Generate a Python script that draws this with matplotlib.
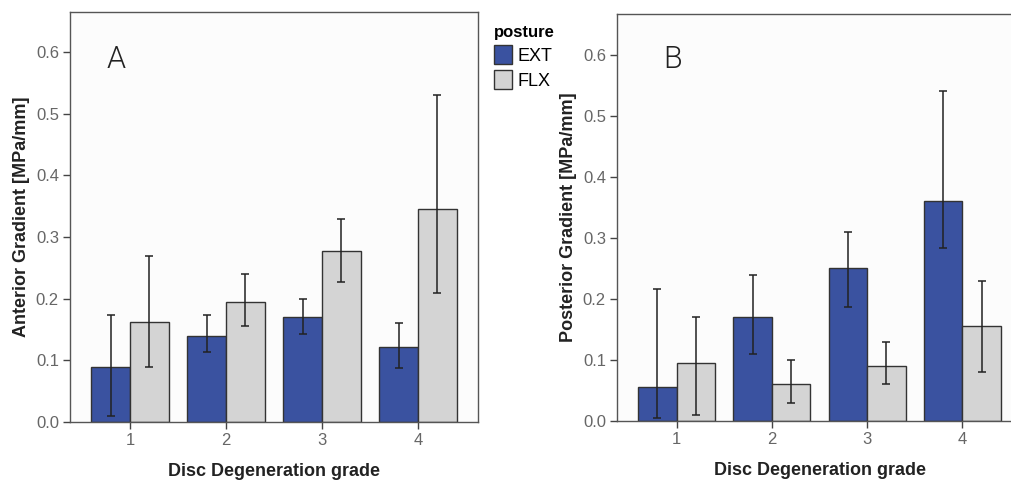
"""
Grouped bar charts of anterior / posterior pressure gradients
per disc degeneration grade, split by posture (EXT / FLX).
Saves the figure as out.png.
"""

import numpy as np
import matplotlib.pyplot as plt
from matplotlib.patches import Patch

# ──────────────────────────────────────────────
# Data
# ──────────────────────────────────────────────
grades = [1, 2, 3, 4]
postures = ["EXT", "FLX"]

ant_ext      = [0.090, 0.140, 0.170, 0.121]
ant_ext_low  = [0.010, 0.113, 0.142, 0.088]
ant_ext_high = [0.173, 0.173, 0.200, 0.161]
ant_flx      = [0.163, 0.195, 0.277, 0.345]
ant_flx_low  = [0.090, 0.155, 0.227, 0.210]
ant_flx_high = [0.270, 0.240, 0.330, 0.530]

post_ext      = [0.056, 0.170, 0.250, 0.360]
post_ext_low  = [0.005, 0.110, 0.187, 0.283]
post_ext_high = [0.216, 0.240, 0.310, 0.540]
post_flx      = [0.095, 0.060, 0.090, 0.155]
post_flx_low  = [0.010, 0.030, 0.060, 0.080]
post_flx_high = [0.170, 0.100, 0.130, 0.230]

yticks = [0.0, 0.1, 0.2, 0.3, 0.4, 0.5, 0.6]

# ──────────────────────────────────────────────
# Style
# ──────────────────────────────────────────────
EXT_COLOR  = "#3A52A0"
FLX_COLOR  = "#D4D4D4"
EDGE_COLOR = "#333333"
TICK_COLOR = "#666666"
BAR_W      = 0.405

plt.rcParams["font.family"] = ["Liberation Sans", "DejaVu Sans"]


def draw_panel(ax, ext, ext_lo, ext_hi, flx, flx_lo, flx_hi,
               ylabel, letter, letter_xy, ytop):
    x = np.array(grades, dtype=float)
    for vals, lo, hi, offs, col in [
        (ext, ext_lo, ext_hi, -BAR_W / 2, EXT_COLOR),
        (flx, flx_lo, flx_hi, BAR_W / 2, FLX_COLOR),
    ]:
        vals = np.array(vals)
        err = np.vstack([vals - np.array(lo), np.array(hi) - vals])
        ax.bar(x + offs, vals, width=BAR_W, color=col,
               edgecolor=EDGE_COLOR, linewidth=1.0, zorder=2)
        ax.errorbar(x + offs, vals, yerr=err, fmt="none",
                    ecolor="#222222", elinewidth=1.1, capsize=3.2,
                    capthick=1.1, zorder=3)

    ax.set_xlim(0.375, 4.625)
    ax.set_ylim(0, ytop)
    ax.set_xticks(grades)
    ax.set_yticks(yticks)
    ax.set_yticklabels([f"{v:.1f}" for v in yticks])
    ax.set_facecolor("#FCFCFC")
    for s in ax.spines.values():
        s.set_color("#555555")
        s.set_linewidth(1.0)
    ax.tick_params(axis="both", direction="out", length=5, width=1.0,
                   color="#444444", labelcolor=TICK_COLOR, labelsize=12, pad=3)
    ax.set_xlabel("Disc Degeneration grade", fontsize=13, fontweight="bold",
                  color="#222222", labelpad=11)
    ax.set_ylabel(ylabel, fontsize=13, fontweight="bold",
                  color="#222222", labelpad=4)
    ax.text(letter_xy[0], letter_xy[1], letter, transform=ax.transAxes,
            fontsize=22, fontfamily="Roboto", fontweight=300,
            color="#222222", va="baseline", ha="left")


fig = plt.figure(figsize=(10.11, 4.83), dpi=100)

ax_a = fig.add_axes([70 / 1011, 61 / 483, 408 / 1011, 410 / 483])
draw_panel(ax_a, ant_ext, ant_ext_low, ant_ext_high,
           ant_flx, ant_flx_low, ant_flx_high,
           "Anterior Gradient [MPa/mm]", "A", (0.09, 0.863), 0.665)

ax_b = fig.add_axes([617 / 1011, 62 / 483, 405 / 1011, 407 / 483])
draw_panel(ax_b, post_ext, post_ext_low, post_ext_high,
           post_flx, post_flx_low, post_flx_high,
           "Posterior Gradient [MPa/mm]", "B", (0.113, 0.867), 0.667)

handles = [Patch(facecolor=EXT_COLOR, edgecolor=EDGE_COLOR, label=postures[0]),
           Patch(facecolor=FLX_COLOR, edgecolor=EDGE_COLOR, label=postures[1])]
leg = fig.legend(handles=handles, title="posture", loc="upper left",
                 bbox_to_anchor=(485 / 1011, 1 - 16 / 483), frameon=False,
                 fontsize=13, handlelength=1.0, handleheight=1.2,
                 handletextpad=0.3, labelspacing=0.3, borderpad=0,
                 alignment="left",
                 title_fontproperties={"weight": "bold", "size": 12})

fig.savefig("out.png", dpi=100)
